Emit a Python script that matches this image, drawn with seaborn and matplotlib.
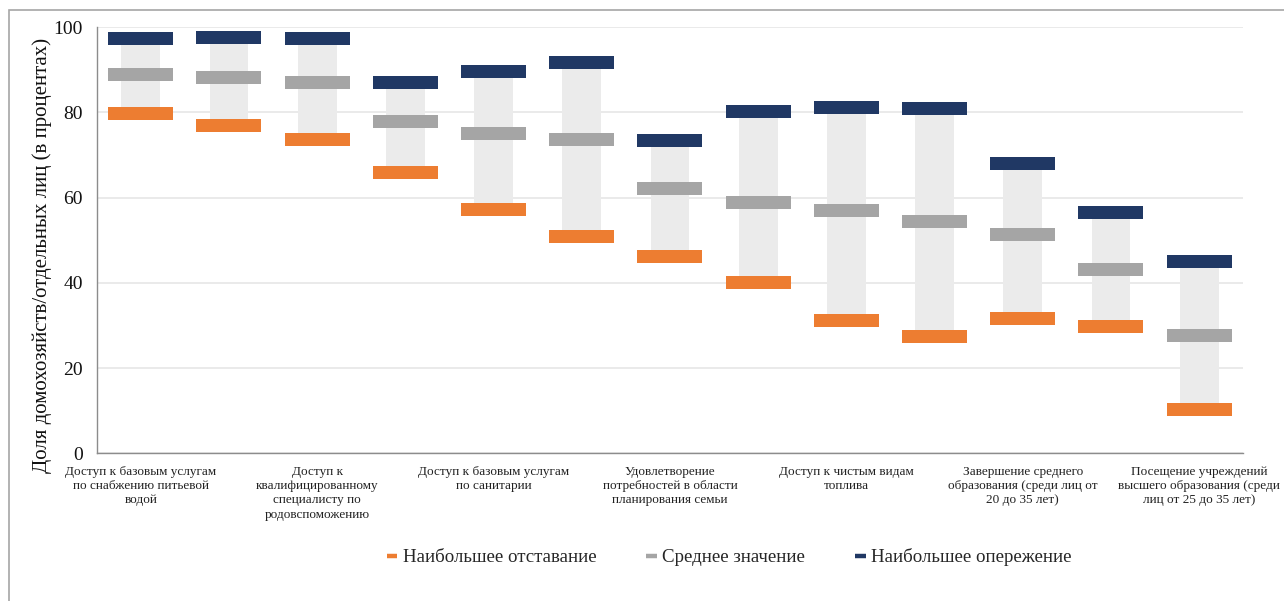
import numpy as np
import pandas as pd
import matplotlib
matplotlib.use("Agg")
import matplotlib.pyplot as plt
from matplotlib.lines import Line2D
from matplotlib.patches import Rectangle
import seaborn as sns

# Indicators (only every second one carries a printed label on the axis)
categories = [
    "Доступ к базовым услугам\nпо снабжению питьевой\nводой",
    "",
    "Доступ к\nквалифицированному\nспециалисту по\nродовспоможению",
    "",
    "Доступ к базовым услугам\nпо санитарии",
    "",
    "Удовлетворение\nпотребностей в области\nпланирования семьи",
    "",
    "Доступ к чистым видам\nтоплива",
    "",
    "Завершение среднего\nобразования (среди лиц от\n20 до 35 лет)",
    "",
    "Посещение учреждений\nвысшего образования (среди\nлиц от 25 до 35 лет)",
]

# Share of households / individuals, %
lag = [79.8, 77.0, 73.7, 66.0, 57.3, 50.9, 46.2, 40.1, 31.2, 27.5, 31.7, 29.8, 10.3]
avg = [89.0, 88.2, 87.1, 77.9, 75.1, 73.7, 62.2, 58.9, 57.0, 54.5, 51.4, 43.2, 27.7]
lead = [97.4, 97.7, 97.4, 87.1, 89.7, 91.8, 73.5, 80.3, 81.2, 81.0, 68.1, 56.6, 45.1]

series_names = ["Наибольшее отставание", "Среднее значение", "Наибольшее опережение"]
series_colors = ["#ED7D31", "#A5A5A5", "#203864"]
y_ticks = [0, 20, 40, 60, 80, 100]
y_label = "Доля домохозяйств/отдельных лиц (в процентах)"

sns.set_theme(style="white")
plt.rcParams["font.family"] = ["Liberation Serif", "DejaVu Serif"]

fig = plt.figure(figsize=(12.84, 6.01), dpi=100)
ax = fig.add_axes([0.0753, 0.2458, 0.893, 0.7088])

pos = np.arange(len(categories))

# light range bar from the lagging to the leading group
ax.bar(pos, np.array(lead) - np.array(lag), bottom=lag, width=0.44,
       color="#EBEBEB", linewidth=0, zorder=1)

df = pd.DataFrame({
    "pos": np.tile(pos, 3),
    "value": lag + avg + lead,
    "series": np.repeat(series_names, len(pos)),
})

# flat rectangular marker, 5:1
bar_marker = [(-2.5, -0.5), (2.5, -0.5), (2.5, 0.5), (-2.5, 0.5), (-2.5, -0.5)]
sns.scatterplot(data=df, x="pos", y="value", hue="series", hue_order=series_names,
                palette=series_colors, marker=bar_marker, s=2190, linewidth=0,
                edgecolor="none", legend=False, ax=ax, zorder=3)

ax.set_xlim(-0.5, len(categories) - 0.5)
ax.set_ylim(0, 100)
ax.set_yticks(y_ticks)
ax.yaxis.grid(True, color="#E6E6E6", linewidth=1.2)
ax.xaxis.grid(False)
ax.set_axisbelow(True)

ax.set_xticks(pos)
ax.set_xticklabels(categories, fontsize=9.5, linespacing=1.25, va="top")
ax.set_xticks(np.arange(-0.5, len(categories), 1.0), minor=True)
ax.tick_params(axis="x", which="major", length=0, pad=9, labelcolor="#222222")
ax.tick_params(axis="x", which="minor", length=4, width=1, color="#8C8C8C", direction="out")
ax.tick_params(axis="y", length=4, width=1, color="#8C8C8C", direction="out",
               labelsize=14, pad=6, labelcolor="#111111")
ax.set_xlabel("")
ax.set_ylabel(y_label, fontsize=15, color="#111111")
ax.yaxis.set_label_coords(-0.039, 0.465)

for side in ["top", "right"]:
    ax.spines[side].set_visible(False)
for side in ["left", "bottom"]:
    ax.spines[side].set_color("#8C8C8C")
    ax.spines[side].set_linewidth(1.0)

handles = [Line2D([0], [0], color=c, linewidth=3.2, solid_capstyle="butt") for c in series_colors]
fig.legend(handles, series_names, loc="center", bbox_to_anchor=(0.568, 0.073), ncol=3,
           frameon=False, fontsize=13.6, handlelength=0.55, handletextpad=0.3,
           columnspacing=2.65)

# thin frame around the chart area
fig.add_artist(Rectangle((9 / 1284, -0.05), 1.2, 1 - 10 / 601 + 0.05,
                         transform=fig.transFigure, fill=False,
                         edgecolor="#A6A6A6", linewidth=1.2, clip_on=False))

fig.savefig("out.png", dpi=100)
